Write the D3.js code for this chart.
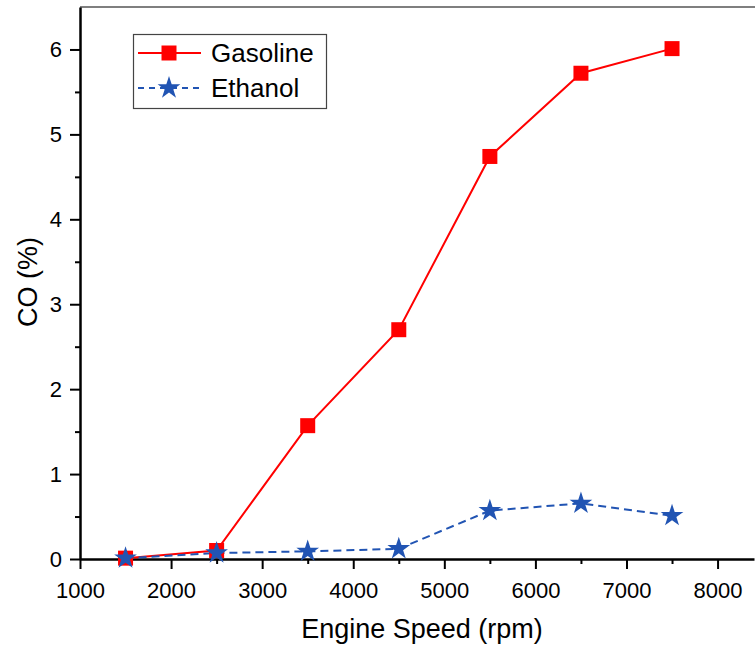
<!DOCTYPE html>
<html>
<head>
<meta charset="utf-8">
<script src="https://cdn.jsdelivr.net/npm/d3@7"></script>
<style>
  body { margin: 0; background: #fff; }
  text { font-family: "Liberation Sans", Arial, sans-serif; fill: #000; }
</style>
</head>
<body>
<script>
var w = 755;
var h = 646;

var speeds = [1500, 2500, 3500, 4500, 5500, 6500, 7500];
var gasoline = [0.01, 0.10, 1.57, 2.70, 4.74, 5.72, 6.01];
var ethanol = [0.01, 0.07, 0.09, 0.12, 0.57, 0.655, 0.51];
var xTicks = [1000, 2000, 3000, 4000, 5000, 6000, 7000, 8000];
var yTicks = [0, 1, 2, 3, 4, 5, 6];

var padL = 80, padR = 754, padT = 7, padB = 559;

var svg = d3.select("body")
    .append("svg")
    .attr("width", w)
    .attr("height", h);

var x = d3.scaleLinear().domain([1000, 8400]).range([padL, padR]);
var y = d3.scaleLinear().domain([0, 6.5]).range([padB, padT]);

// top frame line
svg.append("line")
    .attr("x1", padL).attr("x2", w)
    .attr("y1", padT).attr("y2", padT)
    .attr("stroke", "#555")
    .attr("stroke-width", 1.5);

// minor ticks
var xMinor = d3.range(1500, 8400, 1000);
var yMinor = d3.range(0.5, 6.5, 1);

svg.append("g")
    .attr("transform", "translate(0," + padB + ")")
    .call(d3.axisBottom(x).tickValues(xMinor).tickSize(5).tickFormat(""))
    .call(function(g) { g.select(".domain").remove(); })
    .selectAll("line").attr("stroke-width", 2);

svg.append("g")
    .attr("transform", "translate(" + padL + ",0)")
    .call(d3.axisLeft(y).tickValues(yMinor).tickSize(5).tickFormat(""))
    .call(function(g) { g.select(".domain").remove(); })
    .selectAll("line").attr("stroke-width", 2);

// major axes
var xAxis = svg.append("g")
    .attr("transform", "translate(0," + padB + ")")
    .call(d3.axisBottom(x).tickValues(xTicks).tickFormat(d3.format("d"))
        .tickSize(10).tickSizeOuter(0).tickPadding(13));
xAxis.select(".domain").attr("stroke-width", 2.5);
xAxis.selectAll("line").attr("stroke-width", 2);
xAxis.selectAll("text")
    .attr("font-size", "22px")
    .attr("font-family", "Liberation Sans, Arial, sans-serif");

var yAxis = svg.append("g")
    .attr("transform", "translate(" + padL + ",0)")
    .call(d3.axisLeft(y).tickValues(yTicks).tickFormat(d3.format("d"))
        .tickSize(10).tickSizeOuter(0).tickPadding(8));
yAxis.select(".domain").attr("stroke-width", 2.5);
yAxis.selectAll("line").attr("stroke-width", 2);
yAxis.selectAll("text")
    .attr("font-size", "22px")
    .attr("font-family", "Liberation Sans, Arial, sans-serif");

// axis titles
svg.append("text")
    .attr("x", 422)
    .attr("y", 638)
    .attr("text-anchor", "middle")
    .attr("font-size", "27px")
    .text("Engine Speed (rpm)");

svg.append("text")
    .attr("transform", "translate(37,282) rotate(-90)")
    .attr("text-anchor", "middle")
    .attr("font-size", "27px")
    .text("CO (%)");

// series
var red = "#ff0000";
var blue = "#2154b3";

var line = d3.line()
    .x(function(d) { return x(d[0]); })
    .y(function(d) { return y(d[1]); });

var gasPts = d3.zip(speeds, gasoline);
var ethPts = d3.zip(speeds, ethanol);

svg.append("path")
    .datum(gasPts)
    .attr("d", line)
    .attr("fill", "none")
    .attr("stroke", red)
    .attr("stroke-width", 2);

svg.append("path")
    .datum(ethPts)
    .attr("d", line)
    .attr("fill", "none")
    .attr("stroke", blue)
    .attr("stroke-width", 2)
    .attr("stroke-dasharray", "8,5");

var square = d3.symbol().type(d3.symbolSquare).size(225);
var star = d3.symbol().type(d3.symbolStar).size(160);

svg.selectAll(".gas")
    .data(gasPts)
    .enter()
    .append("path")
    .attr("class", "gas")
    .attr("d", square)
    .attr("transform", function(d) { return "translate(" + x(d[0]) + "," + y(d[1]) + ")"; })
    .attr("fill", red);

svg.selectAll(".eth")
    .data(ethPts)
    .enter()
    .append("path")
    .attr("class", "eth")
    .attr("d", star)
    .attr("transform", function(d) { return "translate(" + x(d[0]) + "," + y(d[1]) + ")"; })
    .attr("fill", blue);

// legend
var legend = svg.append("g");
legend.append("rect")
    .attr("x", 133.5).attr("y", 34.5)
    .attr("width", 193).attr("height", 74)
    .attr("fill", "#fff")
    .attr("stroke", "#444")
    .attr("stroke-width", 1.2);

var items = [
    { name: "Gasoline", color: red, dash: null, sym: square, y: 53 },
    { name: "Ethanol", color: blue, dash: "6,5", sym: star, y: 88 }
];

items.forEach(function(it) {
    legend.append("line")
        .attr("x1", 138).attr("x2", 201)
        .attr("y1", it.y).attr("y2", it.y)
        .attr("stroke", it.color)
        .attr("stroke-width", 2)
        .attr("stroke-dasharray", it.dash);
    legend.append("path")
        .attr("d", it.sym)
        .attr("transform", "translate(169," + it.y + ")")
        .attr("fill", it.color);
    legend.append("text")
        .attr("x", 211)
        .attr("y", it.y + 9)
        .attr("font-size", "26px")
        .text(it.name);
});
</script>
</body>
</html>
